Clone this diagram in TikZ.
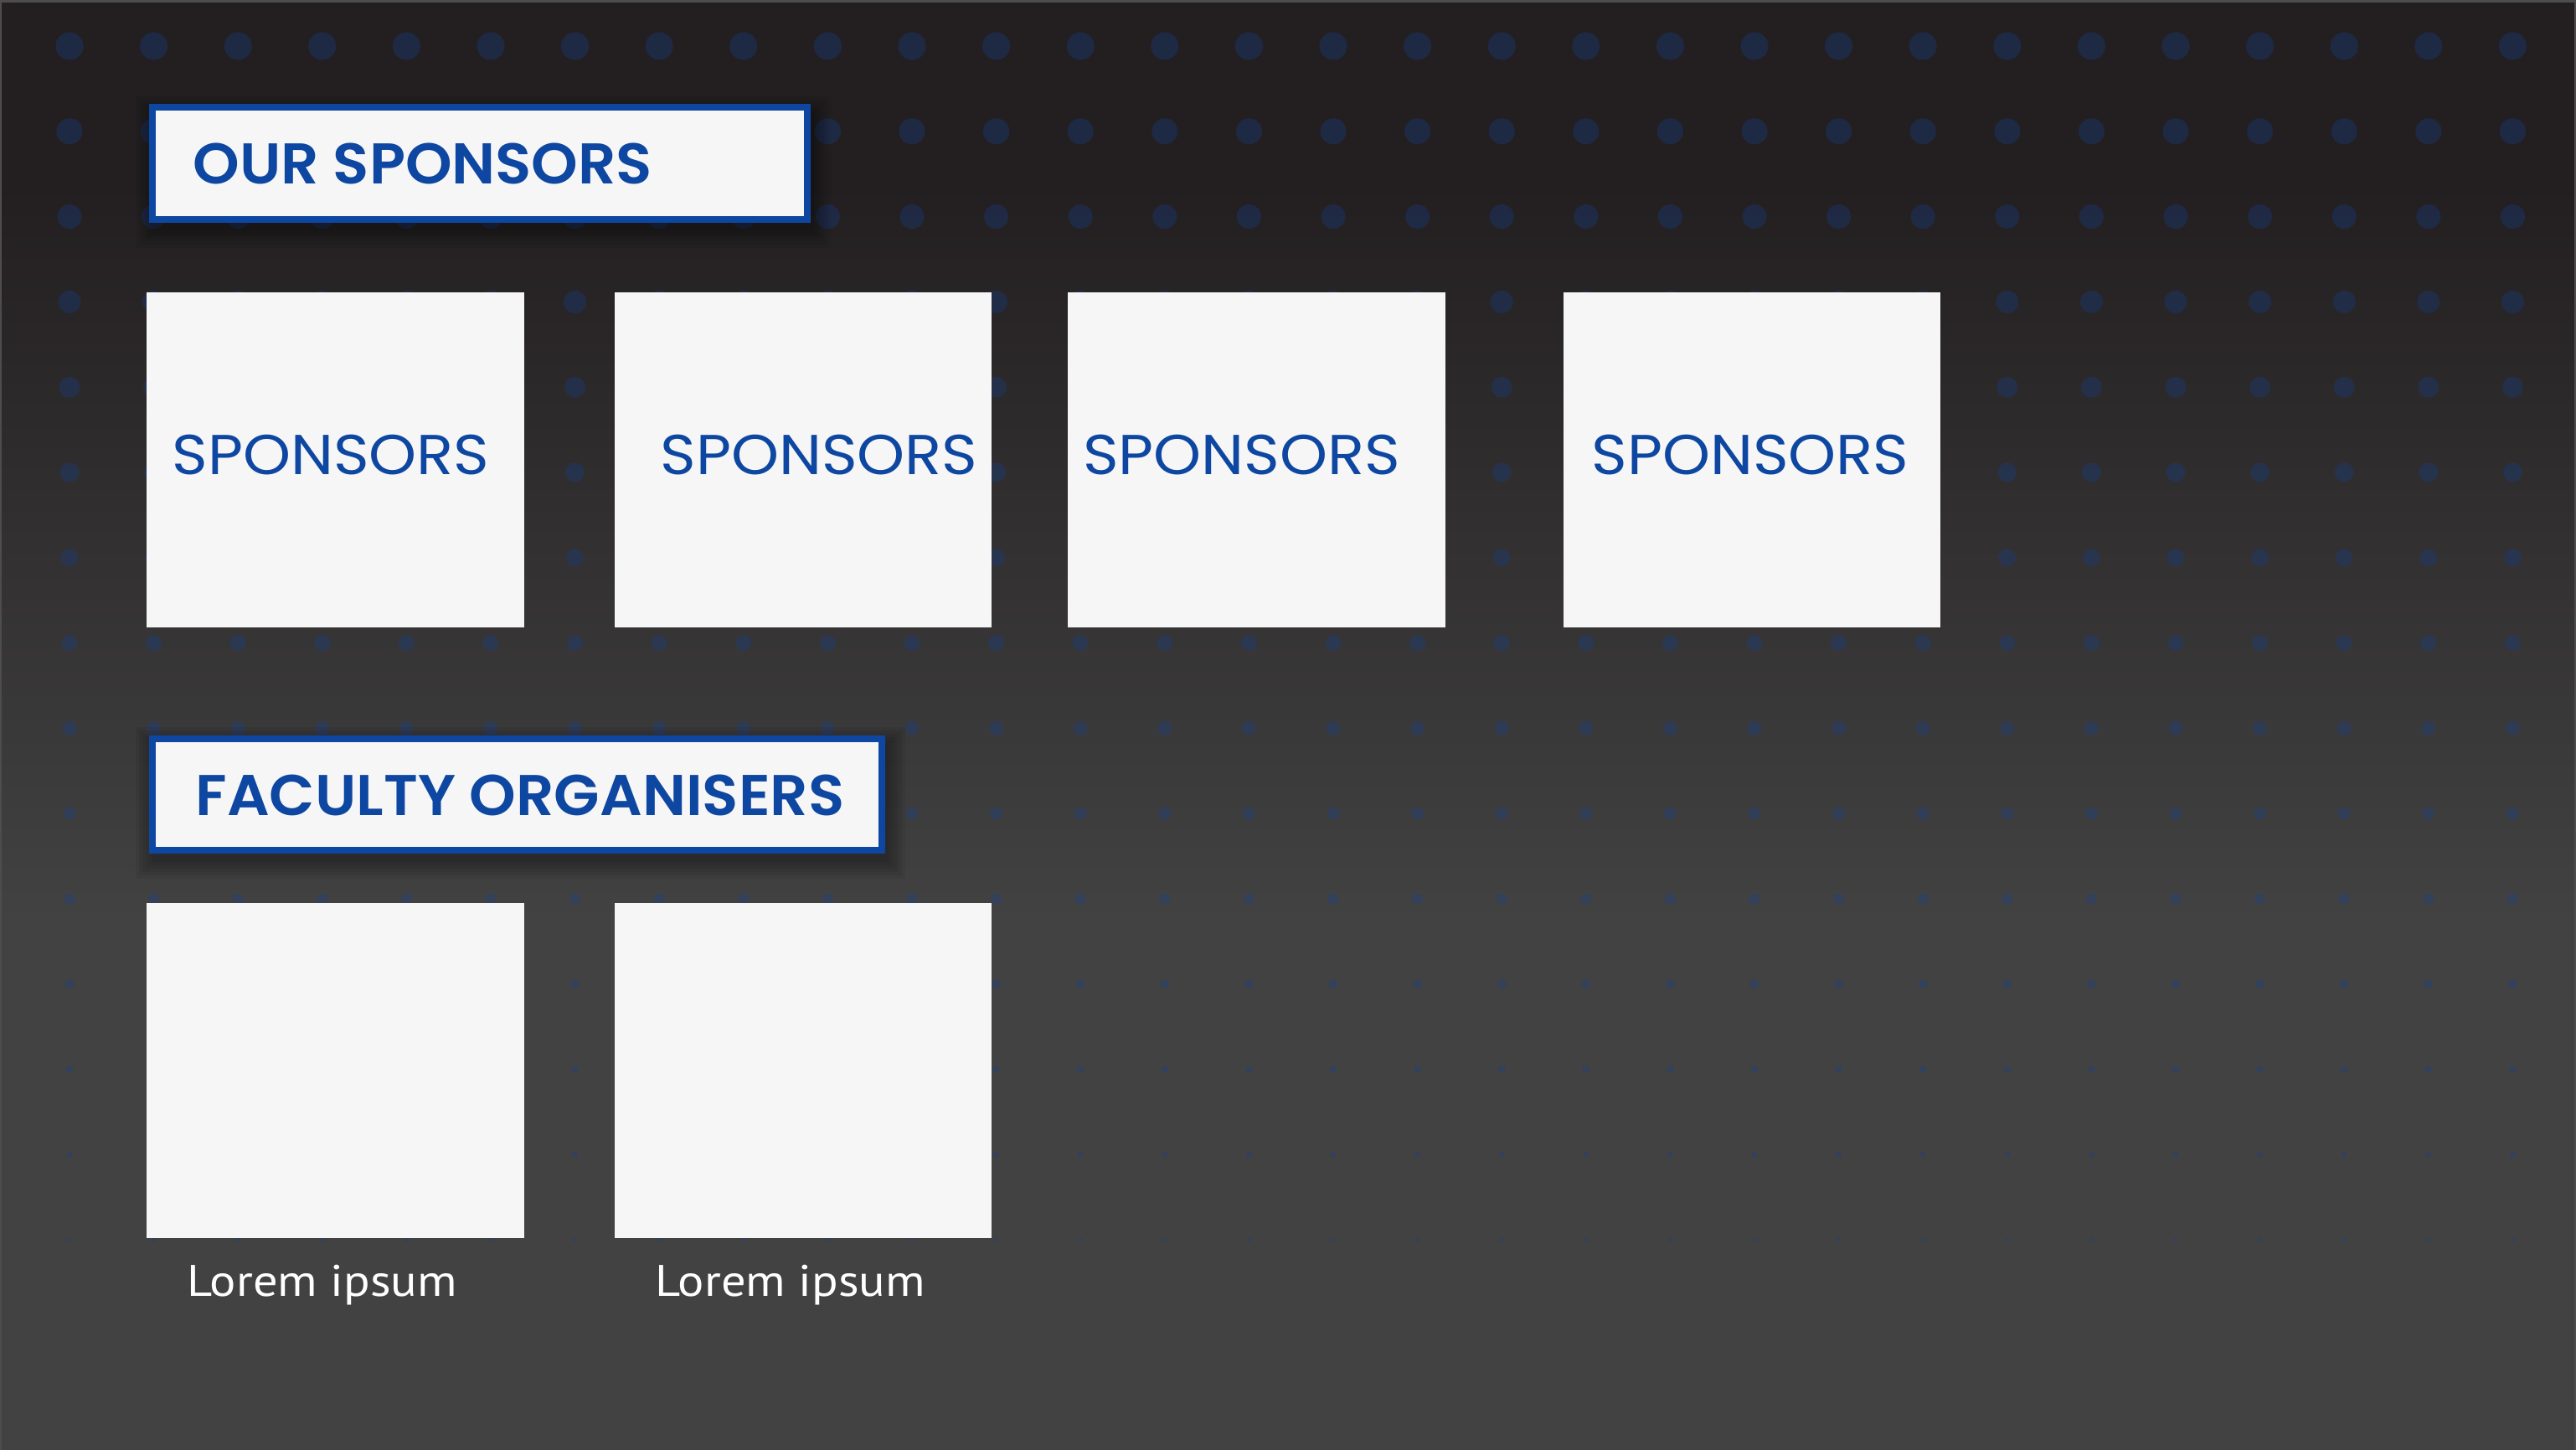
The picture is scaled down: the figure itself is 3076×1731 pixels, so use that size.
\documentclass[tikz,border=0pt]{standalone}
\usepackage{fontspec}
\newfontfamily\popreg{Poppins}[FakeStretch=1.08]
\IfFontExistsTF{Poppins SemiBold}{\newfontfamily\popsb{Poppins SemiBold}[FakeStretch=1.033]}{\newfontfamily\popsb{Poppins}[FakeStretch=1.033,UprightFont=*Bold]}
\newfontfamily\ptsans{PT Sans}[FakeStretch=1.11]
\definecolor{brandblue}{RGB}{14,71,161}
\definecolor{boxfill}{RGB}{246,246,246}
\definecolor{bgtop}{RGB}{35,31,32}
\definecolor{bgbot}{RGB}{66,66,66}
\definecolor{dotblue}{RGB}{20,65,150}
\definecolor{framegray}{RGB}{77,77,77}
\tikzset{
  titlebox/.style={draw=brandblue, line width=8*0.01cm, fill=boxfill, inner sep=0pt},
  titletext/.style={anchor=base west, inner sep=0pt, text=brandblue, font=\popsb\fontsize{19.5}{22}\selectfont},
  logobox/.style={fill=boxfill, draw=none, minimum width=4.5cm, minimum height=4cm, inner sep=0pt},
  logotext/.style={anchor=base, inner sep=0pt, text=brandblue, font=\popreg\fontsize{19.1}{22}\selectfont},
  captext/.style={anchor=base, inner sep=0pt, text=white, font=\ptsans\fontsize{15}{18}\selectfont},
  dot/.style={fill=dotblue, fill opacity=0.3},
  shadowlayer/.style={fill=black, fill opacity=0.06}
}
\begin{document}
\begin{tikzpicture}[x=0.01cm, y=-0.01cm]
\useasboundingbox (0,0) rectangle (3076,1731);
% background
\fill[bgtop] (0,0) rectangle (3076,221);
\shade[top color=bgtop, bottom color=bgbot] (0,220) rectangle (3076,1101);
\fill[bgbot] (0,1100) rectangle (3076,1731);
\fill[framegray] (0,0) rectangle (3076,3);
\fill[framegray] (0,0) rectangle (2,1731);
\fill[framegray] (3074,0) rectangle (3076,1731);
% dot grid
\foreach \j in {0,...,16}{
  \pgfmathsetmacro\r{max(33-2*\j,3)*0.005}
  \foreach \i in {0,...,29}{
    \fill[dot] (83+100.6*\i, 55+101.8*\j) circle[radius=\r cm];
  }
}
% shadows of title boxes
\foreach \k in {0,4,...,20}{
  \fill[shadowlayer] (178+4-\k,124+10-\k) rectangle (968+4+\k,266+10+\k);
  \fill[shadowlayer] (178+4-\k,878+10-\k) rectangle (1057+4+\k,1019+10+\k);
}
% title boxes
\node[titlebox, minimum width=7.82cm, minimum height=1.34cm] (hsp) at (573,195) {};
\node[titletext] (hspt) at (230,220) {OUR SPONSORS};
\node[titlebox, minimum width=8.71cm, minimum height=1.33cm] (hfac) at (617.5,948.5) {};
\node[titletext] (hfact) at (233,973) {FACULTY ORGANISERS};
% sponsor boxes
\node[logobox] (s1) at (400.5,549) {};
\node[logobox] (s2) at (959,549) {};
\node[logobox] (s3) at (1500.5,549) {};
\node[logobox] (s4) at (2092,549) {};
\node[logotext] (s1t) at (395,567) {SPONSORS};
\node[logotext] (s2t) at (978,567) {SPONSORS};
\node[logotext] (s3t) at (1482.5,567) {SPONSORS};
\node[logotext] (s4t) at (2090,567) {SPONSORS};
% faculty boxes
\node[logobox] (f1) at (400.5,1278) {};
\node[logobox] (f2) at (959,1278) {};
\node[captext] (f1t) at (385,1547) {Lorem ipsum};
\node[captext] (f2t) at (944,1547) {Lorem ipsum};
\end{tikzpicture}
\end{document}
